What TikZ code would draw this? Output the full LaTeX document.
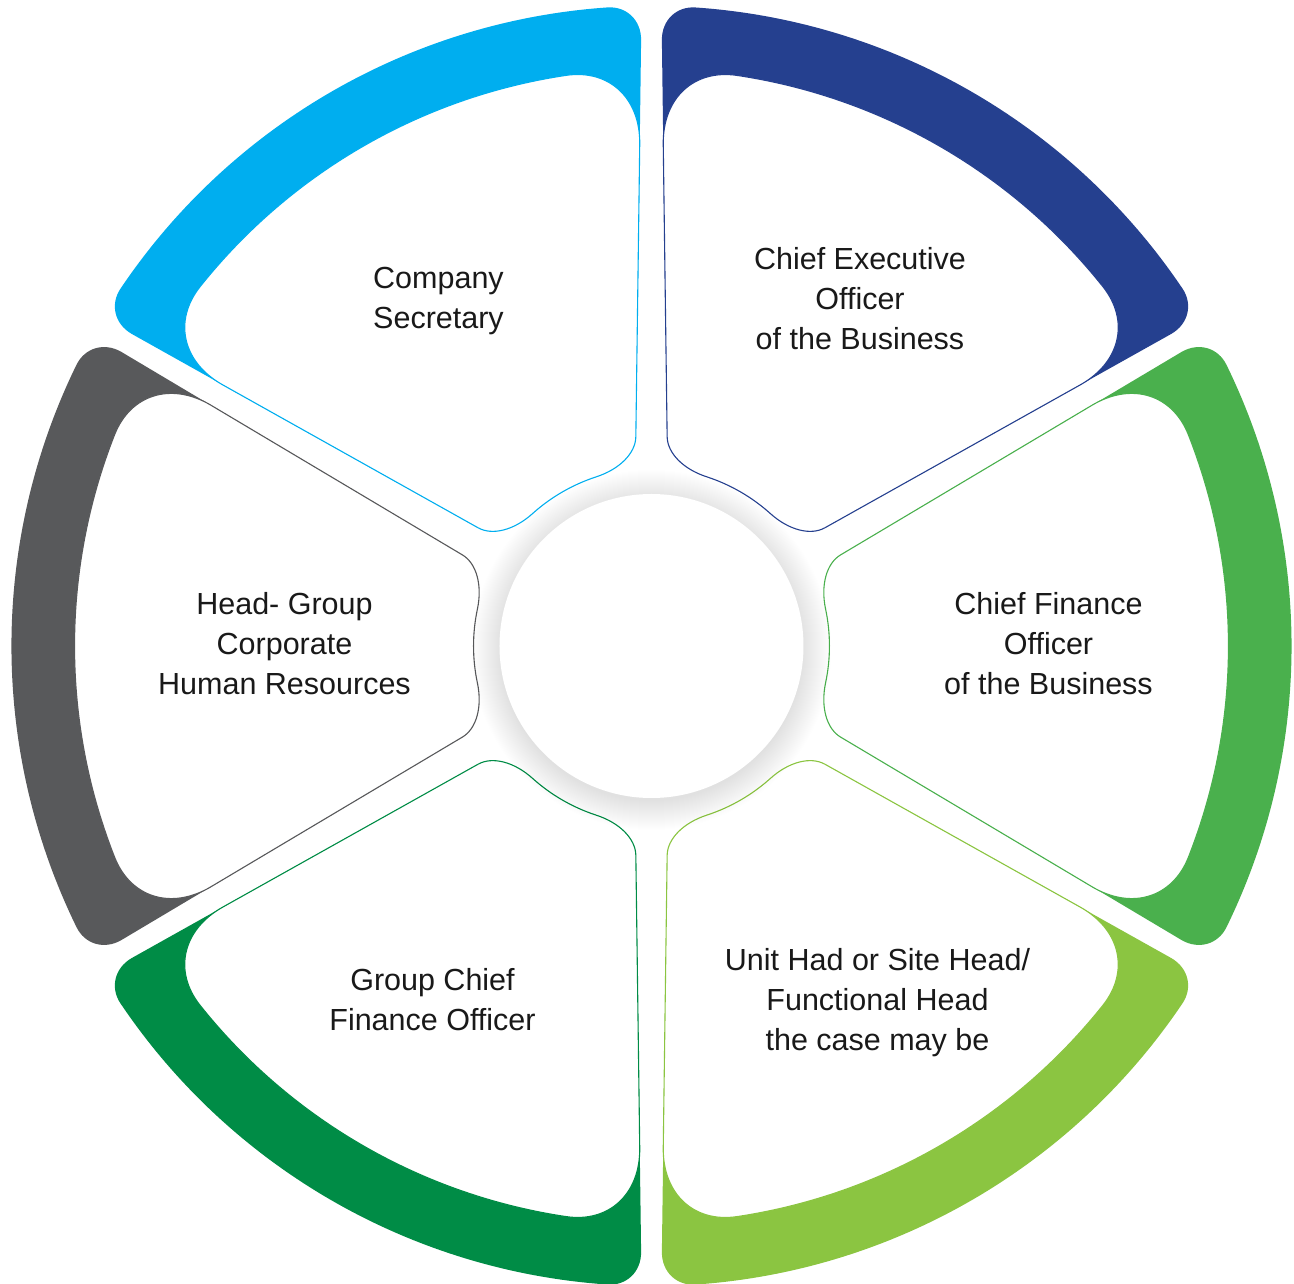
\documentclass[tikz,border=0pt]{standalone}
\usepackage{fontspec}
\setmainfont{Liberation Sans}
\definecolor{cssky}{HTML}{00AEEF}
\definecolor{ceoblue}{HTML}{25408F}
\definecolor{cfogreen}{HTML}{4AB04D}
\definecolor{unitlime}{HTML}{8BC541}
\definecolor{gcfogreen}{HTML}{008C46}
\definecolor{hrgray}{HTML}{58595B}
\tikzset{
  rolename/.style={font=\fontsize{30.5}{40}\selectfont, align=center, anchor=north, inner sep=0pt, text=black!90},
  band/.style={fill=#1, draw=none},
  petal/.style={fill=white, draw=#1, line width=1.1pt},
}

\begin{document}
\begin{tikzpicture}[x=1pt,y=1pt]
\useasboundingbox (-651.5,-638) rectangle (642.5,646);
\foreach \ang/\col in {0/cfogreen, 60/ceoblue, 120/cssky, 180/hrgray, 240/gcfogreen, 300/unitlime} {
  \begin{scope}[rotate=\ang]
    \fill[band=\col] (267.0,-137.5) -- (530.0,-294.0) .. controls (547.0,-304.0) and (566.6,-298.4) .. (575.0,-281.2)
      arc[start angle=-26.06, end angle=26.06, radius=640]
      .. controls (566.6,298.4) and (547.0,304.0) .. (530.0,294.0) -- (267.0,137.5) -- cycle;
    \filldraw[petal=\col] (189.1,-91.1) -- (440.6,-240.8) .. controls (480.1,-264.3) and (520.9,-251.8) .. (536.9,-211.3)
      arc[start angle=-21.48, end angle=21.48, radius=577]
      .. controls (520.9,251.8) and (480.1,264.3) .. (440.6,240.8) -- (189.1,91.1)
      .. controls (175.0,82.7) and (169.0,61.0) .. (174.1,36.9)
      arc[start angle=11.95, end angle=-11.95, radius=178]
      .. controls (169.0,-61.0) and (175.0,-82.7) .. (189.1,-91.1) -- cycle;
  \end{scope}
}
\foreach \k [evaluate=\k as \rr using 150+\k] in {1,...,30}
  \fill[black, opacity=0.0038] (0,-4) circle[radius=\rr];
\node[circle, fill=white, minimum size=304pt, inner sep=0pt] (hub) at (0,0) {};

\node[rolename] (cs) at (-213,379) {Company\\Secretary};
\node[rolename] (ceo) at (208.5,399) {Chief Executive\\Officer\\of the Business};
\node[rolename] (cfo) at (397,54) {Chief Finance\\Officer\\of the Business};
\node[rolename] (unithead) at (226,-302) {Unit Had or Site Head/\\Functional Head\\the case may be};
\node[rolename] (gcfo) at (-219,-322) {Group Chief\\Finance Officer};
\node[rolename] (hr) at (-367,54) {Head- Group\\Corporate\\Human Resources};
\end{tikzpicture}
\end{document}
